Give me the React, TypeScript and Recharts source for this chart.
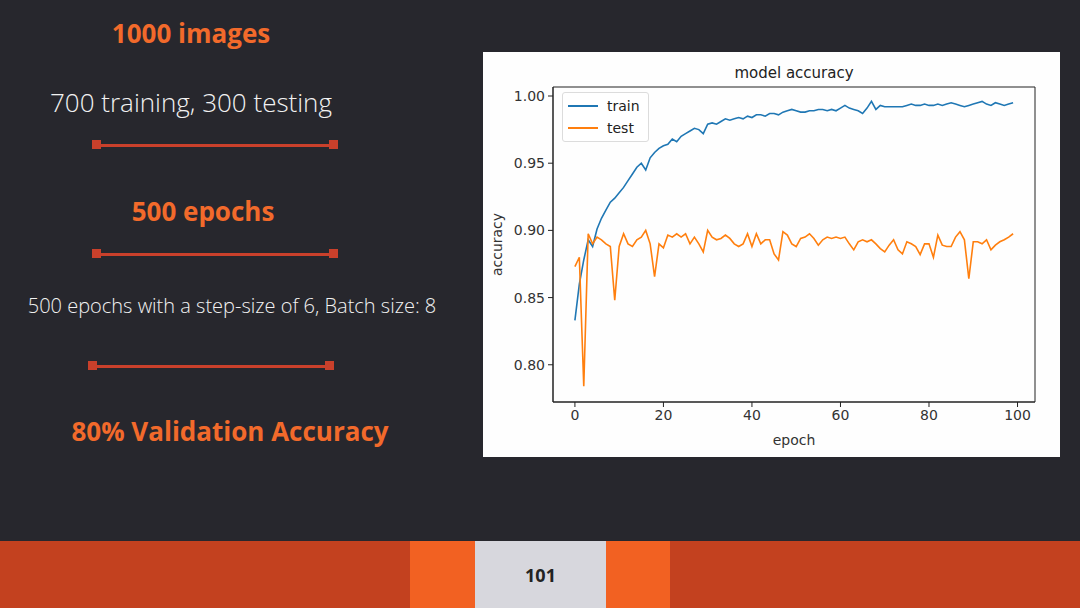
import { LineChart, Line, XAxis, YAxis, ReferenceArea, Label } from 'recharts';

// accuracy per epoch
const trainAcc = [
  0.833, 0.86, 0.878, 0.893, 0.888, 0.901, 0.909, 0.915, 0.921, 0.924,
  0.928, 0.932, 0.937, 0.942, 0.947, 0.95, 0.945, 0.954, 0.958, 0.961,
  0.963, 0.964, 0.968, 0.966, 0.97, 0.972, 0.974, 0.976, 0.975, 0.972,
  0.979, 0.98, 0.979, 0.981, 0.983, 0.982, 0.983, 0.984, 0.983, 0.985,
  0.984, 0.986, 0.986, 0.985, 0.987, 0.987, 0.986, 0.988, 0.989, 0.99,
  0.989, 0.988, 0.988, 0.989, 0.989, 0.99, 0.99, 0.989, 0.99, 0.989,
  0.991, 0.993, 0.991, 0.99, 0.989, 0.987, 0.991, 0.996, 0.99, 0.993,
  0.992, 0.992, 0.992, 0.992, 0.992, 0.993, 0.994, 0.993, 0.993, 0.994,
  0.993, 0.993, 0.994, 0.993, 0.994, 0.995, 0.994, 0.993, 0.992, 0.993,
  0.994, 0.995, 0.996, 0.994, 0.993, 0.995, 0.994, 0.993, 0.994, 0.995,
];

const testAcc = [
  0.873, 0.88, 0.784, 0.8975, 0.89, 0.895, 0.893, 0.89, 0.888, 0.848,
  0.888, 0.8975, 0.89, 0.888, 0.893, 0.895, 0.9, 0.89, 0.8655, 0.89,
  0.887, 0.8965, 0.895, 0.8975, 0.895, 0.8975, 0.89, 0.895, 0.89, 0.884,
  0.9, 0.895, 0.893, 0.894, 0.8965, 0.894, 0.89, 0.888, 0.89, 0.8975,
  0.888, 0.8975, 0.89, 0.893, 0.893, 0.8825, 0.878, 0.899, 0.8965, 0.89,
  0.888, 0.894, 0.895, 0.8975, 0.894, 0.889, 0.893, 0.895, 0.894, 0.895,
  0.894, 0.895, 0.89, 0.8855, 0.8915, 0.893, 0.8915, 0.893, 0.89, 0.8865,
  0.884, 0.889, 0.893, 0.8855, 0.8825, 0.8915, 0.89, 0.888, 0.882, 0.89,
  0.89, 0.88, 0.8965, 0.889, 0.888, 0.888, 0.895, 0.899, 0.893, 0.864,
  0.8915, 0.8915, 0.89, 0.893, 0.8855, 0.889, 0.8915, 0.893, 0.895, 0.8975,
];

const xTicks = [0, 20, 40, 60, 80, 100];
const yTicks = [0.8, 0.85, 0.9, 0.95, 1.0];
const seriesNames = ['train', 'test'];

const data = trainAcc.map((v, i) => ({ epoch: i, train: v, test: testAcc[i] }));

const BLUE = '#1f77b4';
const ORANGE = '#ff7f0e';
const SLIDE_BG = '#27272d';
const ACCENT = '#f26a2b';
const RULE = '#c9402b';
const MPL_FONT = '"DejaVu Sans", sans-serif';

const X_DOMAIN: [number, number] = [-4.95, 103.95];
const Y_DOMAIN: [number, number] = [0.7723, 1.0067];

function Divider({ x, y, w }: { x: number; y: number; w: number }) {
  return (
    <div style={{ position: 'absolute', left: x, top: y - 1.5, width: w, height: 3, background: RULE }}>
      <div style={{ position: 'absolute', left: -3, top: -3.5, width: 9, height: 9, background: RULE }} />
      <div style={{ position: 'absolute', right: -3, top: -3.5, width: 9, height: 9, background: RULE }} />
    </div>
  );
}

function Caption({ x, y, size, bold, color, children }: any) {
  return (
    <div
      style={{
        position: 'absolute',
        left: x,
        top: y,
        transform: 'translate(-50%, -50%)',
        whiteSpace: 'nowrap',
        fontFamily: '"Open Sans", sans-serif',
        fontSize: size,
        fontWeight: bold ? 700 : 300,
        color,
      }}
    >
      {children}
    </div>
  );
}

function MplLegend() {
  const colors = [BLUE, ORANGE];
  return (
    <div
      style={{
        position: 'absolute',
        left: 79,
        top: 40,
        border: '1px solid #dcdcdc',
        borderRadius: 3,
        background: 'rgba(255,255,255,0.8)',
        padding: '2px 8px 2px 5px',
        fontFamily: MPL_FONT,
        fontSize: 14,
        color: '#222',
      }}
    >
      {seriesNames.map((n, i) => (
        <div key={n} style={{ display: 'flex', alignItems: 'center', height: 22 }}>
          <div style={{ width: 30, height: 2, background: colors[i], marginRight: 9 }} />
          <span>{n}</span>
        </div>
      ))}
    </div>
  );
}

export default function App() {
  return (
    <div style={{ position: 'absolute', left: 0, top: 0, width: 1080, height: 608, background: SLIDE_BG, overflow: 'hidden' }}>
      {/* left column */}
      <Caption x={191} y={33} size={26} bold color={ACCENT}>1000 images</Caption>
      <Caption x={191} y={102} size={26} color="#f2f2f2">700 training, 300 testing</Caption>
      <Divider x={95} y={145} w={240} />
      <Caption x={203} y={211} size={26} bold color={ACCENT}>500 epochs</Caption>
      <Divider x={95} y={254} w={240} />
      <Caption x={232} y={305} size={20} color="#f2f2f2">500 epochs with a step-size of 6, Batch size: 8</Caption>
      <Divider x={91} y={366} w={240} />
      <Caption x={230} y={431} size={26} bold color={ACCENT}>80% Validation Accuracy</Caption>

      {/* chart image */}
      <div style={{ position: 'absolute', left: 483, top: 52, width: 577, height: 405, background: '#fefefe' }}>
        <div
          style={{
            position: 'absolute',
            left: 70,
            width: 482,
            top: 12,
            textAlign: 'center',
            fontFamily: MPL_FONT,
            fontSize: 15,
            color: '#222',
          }}
        >
          model accuracy
        </div>
        <LineChart width={577} height={405} data={data} margin={{ top: 35, right: 25, bottom: 0, left: 0 }}>
          <XAxis
            dataKey="epoch"
            type="number"
            domain={X_DOMAIN}
            ticks={xTicks}
            allowDataOverflow
            stroke="#222"
            tickSize={5}
            tickMargin={3}
            tick={{ fontFamily: MPL_FONT, fontSize: 14, fill: '#333' }}
            height={55}
          >
            <Label value="epoch" position="insideBottom" offset={12} style={{ fontFamily: MPL_FONT, fontSize: 14, fill: '#333' }} />
          </XAxis>
          <YAxis
            type="number"
            domain={Y_DOMAIN}
            ticks={yTicks}
            allowDataOverflow
            stroke="#222"
            tickSize={5}
            tickMargin={3}
            tickFormatter={(v: number) => v.toFixed(2)}
            tick={{ fontFamily: MPL_FONT, fontSize: 14, fill: '#333' }}
            width={70}
          >
            <Label
              value="accuracy"
              angle={-90}
              position="insideLeft"
              offset={14}
              style={{ fontFamily: MPL_FONT, fontSize: 14, fill: '#333', textAnchor: 'middle' }}
            />
          </YAxis>
          <ReferenceArea x1={X_DOMAIN[0]} x2={X_DOMAIN[1]} y1={Y_DOMAIN[0]} y2={Y_DOMAIN[1]} fill="none" stroke="#222" strokeWidth={1} />
          <Line dataKey="train" stroke={BLUE} strokeWidth={1.6} dot={false} isAnimationActive={false} />
          <Line dataKey="test" stroke={ORANGE} strokeWidth={1.6} dot={false} isAnimationActive={false} />
        </LineChart>
        <MplLegend />
      </div>

      {/* footer bar */}
      <div style={{ position: 'absolute', left: 0, top: 541, width: 1080, height: 67, background: '#c3411f' }} />
      <div style={{ position: 'absolute', left: 410, top: 541, width: 65, height: 67, background: '#f26122' }} />
      <div style={{ position: 'absolute', left: 606, top: 541, width: 64, height: 67, background: '#f26122' }} />
      <div
        style={{
          position: 'absolute',
          left: 475,
          top: 541,
          width: 131,
          height: 67,
          background: '#d7d7dd',
          display: 'flex',
          alignItems: 'center',
          justifyContent: 'center',
          fontFamily: '"Open Sans", sans-serif',
          fontWeight: 700,
          fontSize: 18,
          color: '#222',
        }}
      >
        101
      </div>
    </div>
  );
}
